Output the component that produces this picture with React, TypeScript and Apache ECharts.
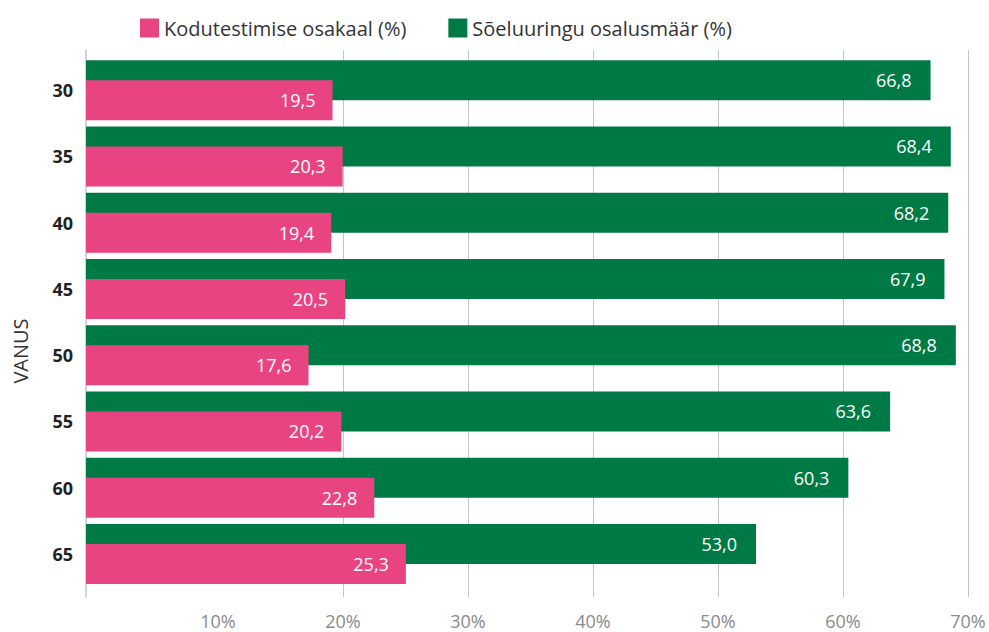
import React, { useEffect, useRef } from "react";
import * as echarts from "echarts";

const categories = ["30", "35", "40", "45", "50", "55", "60", "65"];
const homeTesting = [19.5, 20.3, 19.4, 20.5, 17.6, 20.2, 22.8, 25.3];
const screening = [66.8, 68.4, 68.2, 67.9, 68.8, 63.6, 60.3, 53.0];

const NAME_HOME = "Kodutestimise osakaal (%)";
const NAME_SCREEN = "Sõeluuringu osalusmäär (%)";
const PINK = "#E84482";
const GREEN = "#007A45";
const GRIDC = "#c6c6c6";
const FONT = "Open Sans";

const fmt = (v: number) => v.toFixed(1).replace(".", ",");

export default function App() {
  const ref = useRef<HTMLDivElement>(null);
  useEffect(() => {
    if (!ref.current) return;
    const chart = echarts.init(ref.current, undefined, { renderer: "svg" });
    chart.setOption({
      animation: false,
      textStyle: { fontFamily: FONT },
      legend: {
        data: [NAME_HOME, NAME_SCREEN],
        left: 135,
        top: 13,
        itemWidth: 19,
        itemHeight: 19,
        itemGap: 42,
        icon: "rect",
        textStyle: { fontSize: 20, color: "#333", fontFamily: FONT },
      },
      graphic: [
        {
          type: "text",
          x: 10,
          y: 351,
          rotation: Math.PI / 2,
          style: {
            text: "VANUS",
            fontSize: 20,
            fontFamily: FONT,
            fill: "#333",
            align: "center",
            verticalAlign: "top",
          },
        },
      ],
      grid: [
        { left: 86, right: 18, top: 57, height: 530 },
        { left: 93, right: 21, top: 50, height: 547 },
      ],
      xAxis: [
        {
          gridIndex: 0,
          type: "value",
          min: 0,
          max: 70,
          show: false,
          splitLine: { show: false },
        },
        {
          gridIndex: 1,
          type: "value",
          min: 0,
          max: 70,
          interval: 10,
          axisLine: { show: false, onZero: false },
          axisTick: { show: false },
          splitLine: {
            show: true,
            showMinLine: false,
            lineStyle: {
              color: ["rgba(0,0,0,0)", GRIDC, GRIDC, GRIDC, GRIDC, GRIDC, GRIDC, GRIDC],
              width: 1,
            },
          },
          axisLabel: {
            margin: 15,
            fontSize: 18,
            color: "#8a8a8a",
            fontFamily: FONT,
            formatter: (v: number) => (v === 0 ? "" : v + "%"),
          },
        },
      ],
      yAxis: [
        {
          gridIndex: 0,
          type: "category",
          data: categories,
          inverse: true,
          axisLine: { show: false },
          axisTick: { show: false },
          axisLabel: {
            margin: 13,
            fontSize: 18,
            fontWeight: "bold",
            color: "#222",
            fontFamily: FONT,
          },
        },
        {
          gridIndex: 1,
          type: "value",
          min: 0,
          max: 1,
          offset: 7,
          axisLine: { show: true, onZero: false, lineStyle: { color: GRIDC, width: 1.5 } },
          axisTick: { show: false },
          axisLabel: { show: false },
          splitLine: { show: false },
        },
      ],
      series: [
        {
          name: NAME_SCREEN,
          type: "bar",
          xAxisIndex: 0,
          yAxisIndex: 0,
          data: screening,
          barWidth: 40,
          barGap: "-50%",
          itemStyle: { color: GREEN },
          z: 2,
          label: {
            show: true,
            position: "insideRight",
            distance: 19,
            color: "#fff",
            fontSize: 18,
            fontFamily: FONT,
            formatter: (p: any) => fmt(p.value),
          },
        },
        {
          name: NAME_HOME,
          type: "bar",
          xAxisIndex: 0,
          yAxisIndex: 0,
          data: homeTesting,
          barWidth: 40,
          barGap: "-50%",
          itemStyle: { color: PINK },
          z: 3,
          label: {
            show: true,
            position: "insideRight",
            distance: 17,
            color: "#fff",
            fontSize: 18,
            fontFamily: FONT,
            formatter: (p: any) => fmt(p.value),
          },
        },
      ],
    });
    return () => chart.dispose();
  }, []);
  return <div ref={ref} style={{ width: 989, height: 632, position: "absolute", left: 0, top: 0 }} />;
}
